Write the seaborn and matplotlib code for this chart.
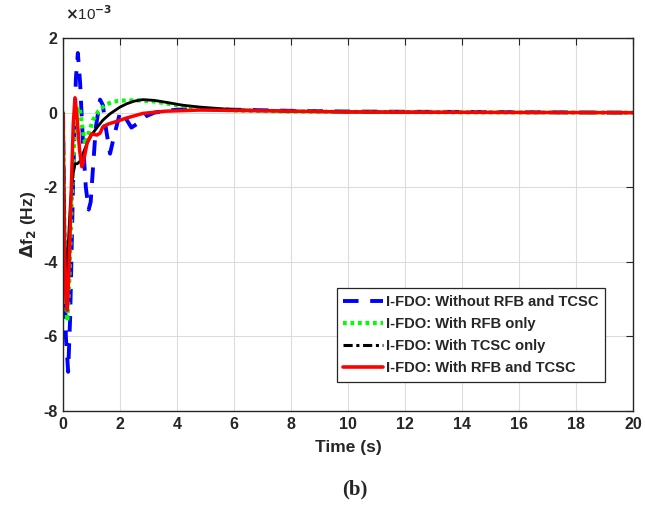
import matplotlib
matplotlib.use("Agg")
import matplotlib.pyplot as plt
import seaborn as sns
import pandas as pd
from matplotlib.lines import Line2D

# ---- data (values in units of 1e-3 Hz) ----
t_blue = [0, 0.05, 0.1, 0.18, 0.25, 0.35, 0.45, 0.52, 0.6, 0.7, 0.8, 0.9, 0.97, 1.05, 1.15,
          1.3, 1.4, 1.5, 1.65, 1.8, 2.0, 2.2, 2.4, 2.6, 2.9, 3.2, 3.6, 4, 5, 6, 8, 10, 14, 20]
y_blue = [0, -3.5, -6.0, -6.95, -5.5, -2.0, 0.9, 1.6, 0.8, -0.8, -2.0, -2.6, -2.4, -1.5, -0.4,
          0.35, 0.2, -0.4, -1.1, -0.6, 0.0, -0.15, -0.4, -0.3, -0.1, 0.0, 0.05, 0.08, 0.1, 0.08,
          0.05, 0.03, 0.02, 0.0]

t_green = [0, 0.04, 0.1, 0.15, 0.22, 0.3, 0.4, 0.5, 0.58, 0.68, 0.78, 0.9, 1.05, 1.25, 1.5,
           1.8, 2.2, 2.7, 3.2, 4, 5, 6, 8, 10, 14, 20]
y_green = [0, -2.5, -5.0, -5.6, -4.5, -2.5, -0.6, 0.1, 0.15, -0.4, -0.85, -0.55, -0.2, 0.05,
           0.22, 0.3, 0.33, 0.33, 0.3, 0.2, 0.1, 0.06, 0.03, 0.02, 0.01, 0]

t_black = [0, 0.05, 0.12, 0.18, 0.26, 0.34, 0.42, 0.5, 0.6, 0.7, 0.84, 1.0, 1.19, 1.4, 1.65,
           2.0, 2.24, 2.5, 2.8, 3.2, 3.6, 4.2, 4.8, 6, 8, 10, 14, 20]
y_black = [0, -3.0, -5.0, -3.6, -2.4, -1.7, -1.37, -1.37, -1.3, -1.1, -0.83, -0.6, -0.4, -0.2,
           -0.03, 0.15, 0.24, 0.31, 0.35, 0.33, 0.28, 0.2, 0.15, 0.08, 0.04, 0.02, 0.01, 0]

t_red = [0, 0.04, 0.1, 0.15, 0.22, 0.3, 0.36, 0.42, 0.5, 0.58, 0.66, 0.72, 0.85, 1.0, 1.19,
         1.3, 1.4, 1.6, 1.82, 2.2, 2.8, 3.6, 4.8, 6.0, 8, 10, 14, 20]
y_red = [0, -3.0, -5.0, -5.3, -4.0, -1.8, -0.3, 0.4, -0.2, -1.0, -1.45, -1.3, -0.8, -0.57,
         -0.6, -0.55, -0.38, -0.3, -0.25, -0.15, -0.02, 0.04, 0.07, 0.06, 0.04, 0.02, 0.01, 0]

labels = ["I-FDO: Without RFB and TCSC", "I-FDO: With RFB only",
          "I-FDO: With TCSC only", "I-FDO: With RFB and TCSC"]
x_ticks = [0, 2, 4, 6, 8, 10, 12, 14, 16, 18, 20]
y_ticks = [-8, -6, -4, -2, 0, 2]

# ---- style ----
sns.set_style("whitegrid")
plt.rcParams['font.family'] = ['Liberation Sans', 'DejaVu Sans']
plt.rcParams['font.weight'] = 'bold'

fig = plt.figure(figsize=(6.45, 5.08), dpi=100)
ax = fig.add_axes([0.0977, 0.191, 0.8837, 0.734])

blue_ls = (0, (4.0, 3.0))
green_ls = (0, (0.9, 0.9))
series = [
    (t_blue, y_blue, "#0000ff", blue_ls, 2.8),
    (t_green, y_green, "#00ff00", green_ls, 3.0),
    (t_black, y_black, "#000000", "-", 2.0),
    (t_red, y_red, "#ff0000", "-", 2.5),
]
for (tt, yy, c, ls, lw) in series:
    df = pd.DataFrame({"t": tt, "y": yy})
    sns.lineplot(data=df, x="t", y="y", ax=ax, color=c, linestyle=ls, lw=lw,
                 estimator=None, sort=False)

ax.set_xlim(0, 20)
ax.set_ylim(-8, 2)
ax.set_xticks(x_ticks)
ax.set_yticks(y_ticks)
ax.set_xticklabels([str(v) for v in x_ticks])
ax.set_yticklabels([str(v) for v in y_ticks])
ax.grid(True, color="#dcdcdc", lw=0.8)
for s in ax.spines.values():
    s.set_color("#262626")
    s.set_linewidth(1.0)
ax.tick_params(direction="in", top=True, right=True, length=5, width=0.8,
               color="#262626", labelsize=11.5, labelcolor="#262626", pad=4)
for lab in ax.get_xticklabels() + ax.get_yticklabels():
    lab.set_fontweight("bold")

ax.set_xlabel("Time (s)", fontsize=12.5, fontweight="bold", color="#262626", labelpad=6)
ax.set_ylabel(r"$\mathbf{\Delta}$f$_{\mathbf{2}}$ (Hz)", fontsize=12.5, fontweight="bold",
              color="#262626", labelpad=4)
fig.text(0.101, 0.955, r"$\times$10$^{-3}$", fontsize=11, color="#262626",
         fontweight="normal", ha="left", va="bottom")
fig.text(0.55, 0.036, "(b)", fontsize=15, fontweight="bold",
         family=["Liberation Serif", "DejaVu Serif"], ha="center", va="center")

handles = [
    Line2D([], [], color="#0000ff", ls=blue_ls, lw=2.8),
    Line2D([], [], color="#00ff00", ls=green_ls, lw=3.0),
    Line2D([], [], color="#000000", ls=(0, (3, 1.2, 1, 1.2)), lw=2.2),
    Line2D([], [], color="#ff0000", ls="-", lw=2.6),
]
leg = ax.legend(handles, labels, loc="lower right", bbox_to_anchor=(0.951, 0.078),
                borderaxespad=0.0,
                frameon=True, fancybox=False, handlelength=2.7,
                handletextpad=0.2, borderpad=0.45, labelspacing=0.55,
                prop={"weight": "bold", "size": 10.6})
leg.get_frame().set_edgecolor("#262626")
leg.get_frame().set_linewidth(0.9)
leg.get_frame().set_alpha(1)

fig.savefig("out.png", dpi=100)
